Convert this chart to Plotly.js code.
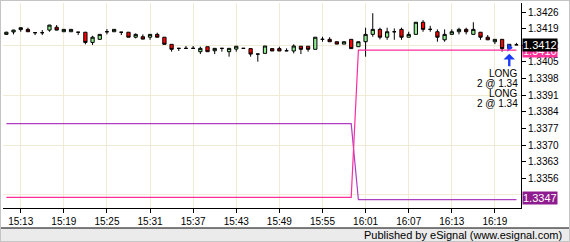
<!DOCTYPE html>
<html>
<head>
<meta charset="utf-8">
<script src="https://cdn.plot.ly/plotly-3.0.1.min.js"></script>
<style>
html,body{margin:0;padding:0;background:#fff;}
#wrap{position:relative;width:570px;height:242px;overflow:hidden;}
#chart{width:570px;height:242px;}
#frame{position:absolute;left:0;top:0;width:570px;height:242px;box-sizing:border-box;border:1px solid #c4c4c4;pointer-events:none;}
</style>
</head>
<body>
<div id="wrap"><div id="chart"></div><div id="frame"></div></div>
<script>
// ---- data ----
var day = '2013-06-12 ';
var times = ['15:11','15:12','15:13','15:14','15:15','15:16','15:17','15:18','15:19','15:20',
 '15:21','15:22','15:23','15:24','15:25','15:26','15:27','15:28','15:29','15:30',
 '15:31','15:32','15:33','15:34','15:35','15:36','15:37','15:38','15:39','15:40',
 '15:41','15:42','15:43','15:44','15:45','15:46','15:47','15:48','15:49','15:50',
 '15:51','15:52','15:53','15:54','15:55','15:56','15:57','15:58','15:59','16:00',
 '16:01','16:02','16:03','16:04','16:05','16:06','16:07','16:08','16:09','16:10',
 '16:11','16:12','16:13','16:14','16:15','16:16','16:17','16:18','16:19','16:20',
 '16:21','16:22'];
var openP = [1.34166,1.34176,1.34186,1.34187,1.34173,1.34173,1.34184,1.34196,1.34177,1.34177,
 1.34175,1.34175,1.34132,1.34145,1.34177,1.34177,1.34175,1.34175,1.34154,1.34156,
 1.34154,1.34166,1.34154,1.34124,1.34107,1.34107,1.34107,1.34093,1.34114,1.34097,
 1.34107,1.34093,1.34104,1.34107,1.34106,1.34083,1.34086,1.34106,1.34106,1.34097,
 1.34096,1.34116,1.34116,1.34103,1.34145,1.34145,1.34135,1.34125,1.34145,1.34114,
 1.34135,1.34166,1.34187,1.34154,1.34177,1.34187,1.34154,1.34166,1.34217,1.34187,
 1.34177,1.34143,1.34166,1.34177,1.34187,1.34166,1.34175,1.34154,1.34135,1.34145,
 1.34106,1.34122];
var highP = [1.34177,1.34185,1.34195,1.34194,1.34173,1.34184,1.34206,1.34205,1.34188,1.34188,
 1.34175,1.34175,1.34160,1.34167,1.34188,1.34188,1.34175,1.34175,1.34170,1.34166,
 1.34167,1.34173,1.34154,1.34124,1.34107,1.34117,1.34117,1.34114,1.34114,1.34107,
 1.34107,1.34107,1.34116,1.34107,1.34106,1.34083,1.34117,1.34106,1.34114,1.34107,
 1.34124,1.34116,1.34116,1.34154,1.34156,1.34154,1.34135,1.34135,1.34145,1.34135,
 1.34194,1.34255,1.34194,1.34194,1.34191,1.34194,1.34177,1.34217,1.34226,1.34202,
 1.34187,1.34187,1.34187,1.34194,1.34194,1.34217,1.34175,1.34163,1.34145,1.34145,
 1.34124,1.34130];
var lowP = [1.34164,1.34166,1.34177,1.34176,1.34163,1.34163,1.34177,1.34183,1.34176,1.34176,
 1.34163,1.34124,1.34121,1.34144,1.34166,1.34176,1.34163,1.34154,1.34149,1.34145,
 1.34143,1.34153,1.34124,1.34093,1.34096,1.34107,1.34107,1.34083,1.34093,1.34083,
 1.34093,1.34072,1.34093,1.34107,1.34072,1.34051,1.34086,1.34096,1.34096,1.34097,
 1.34086,1.34083,1.34093,1.34103,1.34135,1.34135,1.34125,1.34125,1.34106,1.34114,
 1.34072,1.34156,1.34145,1.34143,1.34143,1.34143,1.34154,1.34166,1.34177,1.34177,
 1.34135,1.34135,1.34166,1.34166,1.34166,1.34166,1.34143,1.34143,1.34125,1.34093,
 1.34106,1.34122];
var closeP = [1.34175,1.34184,1.34194,1.34177,1.34173,1.34173,1.34205,1.34184,1.34187,1.34187,
 1.34175,1.34132,1.34154,1.34166,1.34177,1.34187,1.34175,1.34154,1.34166,1.34146,
 1.34166,1.34154,1.34124,1.34103,1.34107,1.34107,1.34107,1.34107,1.34093,1.34107,
 1.34107,1.34107,1.34116,1.34107,1.34083,1.34083,1.34117,1.34096,1.34096,1.34097,
 1.34117,1.34103,1.34103,1.34154,1.34145,1.34135,1.34125,1.34135,1.34106,1.34135,
 1.34166,1.34187,1.34154,1.34177,1.34177,1.34154,1.34166,1.34217,1.34187,1.34187,
 1.34154,1.34166,1.34177,1.34187,1.34177,1.34187,1.34154,1.34143,1.34145,1.34106,
 1.34124,1.34122];
// y-axis tick labels (1.3349 is hidden behind the price flag)
var yTicks = [1.3356,1.3363,1.3370,1.3377,1.3384,1.3391,1.3398,1.3405,1.3412,1.3419,1.3426];
var yGrid  = [1.3349,1.3370,1.3391,1.3412];
// indicator lines
var purpleTimes = ['15:11','15:59','16:00','16:22'];
var purpleVals  = [1.3379, 1.3379, 1.3347, 1.3347];
var pinkTimes   = ['15:11','15:59','16:00','16:22'];
var pinkVals    = [1.3348, 1.3348, 1.3410, 1.3410];
// trade marker
var entryTime = ['16:21'];
var entryPrice = [1.3411];
var tradeLabels = ['LONG', '2 @ 1.34', 'LONG', '2 @ 1.34'];
var footer = 'Published by eSignal (www.esignal.com)';

// ---- build ----
function d(t){ return day + t; }
var grid = '#efebd5';
var FONT = '"Liberation Sans Narrow", "Liberation Sans", Arial, sans-serif';

var traces = [
  {type:'candlestick', x: times.map(d), open: openP, high: highP, low: lowP, close: closeP,
   increasing:{fillcolor:'#90ee90', line:{color:'#000', width:1}},
   decreasing:{fillcolor:'#ff0000', line:{color:'#000', width:1}},
   whiskerwidth:0, hoverinfo:'skip', showlegend:false, xaxis:'x', yaxis:'y'},
  {type:'scatter', mode:'lines', x: purpleTimes.map(d), y: purpleVals,
   line:{color:'#b03cc0', width:1.2}, hoverinfo:'skip', showlegend:false, yaxis:'y2'},
  {type:'scatter', mode:'lines', x: pinkTimes.map(d), y: pinkVals,
   line:{color:'#ff2c9c', width:1.2}, hoverinfo:'skip', showlegend:false, yaxis:'y2'},
  {type:'scatter', mode:'markers', x: entryTime.map(d), y: entryPrice,
   marker:{symbol:'triangle-right', size:7, color:'#1a3cff'}, hoverinfo:'skip', showlegend:false}
];

var yr = [1.33435, 1.34298];
var lastClose = closeP[closeP.length-1];
var labelY = [0.657, 0.608, 0.560, 0.511];
var annotations = [
  {xref:'paper', yref:'y', x:1, xshift:1, xanchor:'left', y: pinkVals[pinkVals.length-1],
   text: pinkVals[pinkVals.length-1].toFixed(4), showarrow:false, bgcolor:'#ff3399',
   font:{family:FONT, size:11, color:'#fff'}, borderpad:0, yshift:-1},
  {xref:'paper', yref:'y', x:1, xshift:1, xanchor:'left', y: lastClose,
   text: lastClose.toFixed(4), showarrow:false, bgcolor:'#000',
   font:{family:FONT, size:11, color:'#fff'}, borderpad:0},
  {xref:'paper', yref:'y', x:1, xshift:1, xanchor:'left', y: purpleVals[purpleVals.length-1],
   text: purpleVals[purpleVals.length-1].toFixed(4), showarrow:false, bgcolor:'#8e1c8e',
   font:{family:FONT, size:11, color:'#fff'}, borderpad:0, yshift:2},
  {xref:'x', yref:'y', x: d(entryTime[0]), y: 1.34084, ax:0, ay:14, text:'', showarrow:true,
   arrowhead:1, arrowsize:0.8, arrowwidth:2.4, arrowcolor:'#1a3cff'},
  {xref:'paper', yref:'paper', x:1, xanchor:'right', xshift:43, y:-0.13, yanchor:'middle',
   text: footer, showarrow:false, font:{family:'"Liberation Sans", Arial, sans-serif', size:11, color:'#000'}}
];
tradeLabels.forEach(function(t, i){
  annotations.push({xref:'paper', yref:'paper', x:1, xshift:-1, xanchor:'right', y: labelY[i],
    yanchor:'middle', text:t, showarrow:false, font:{family:FONT, size:10, color:'#000'}});
});

var shapes = [
  {type:'rect', xref:'paper', yref:'paper', x0:-0.01, x1:1.1, y0:-0.0976, y1:-0.2, fillcolor:'#ebebeb', line:{width:0}, layer:'below'},
  {type:'line', xref:'paper', yref:'paper', x0:-0.01, x1:1.1, y0:-0.0976, y1:-0.0976, line:{color:'#000', width:1}}
];

var layout = {
  width:570, height:242,
  margin:{l:3, r:49, t:3, b:34, pad:0},
  paper_bgcolor:'#fff', plot_bgcolor:'#fff',
  showlegend:false,
  boxgap:0.35,
  font:{family:FONT, size:10, color:'#000'},
  xaxis:{type:'date', range:[d('15:10:32'), d('16:22:38')], tick0: d('15:13'), dtick:360000,
    tickformat:'%H:%M', showgrid:true, gridcolor:grid, gridwidth:1, ticks:'outside', ticklen:4,
    tickcolor:'#000', showline:true, linecolor:'#000', linewidth:1, zeroline:false,
    rangeslider:{visible:false}, fixedrange:true, tickfont:{family:FONT, size:10, color:'#000'}},
  yaxis:{range:yr, side:'right', tickmode:'array', tickvals:yTicks, ticktext: yTicks.map(function(v){return v.toFixed(4);}),
    showgrid:false, ticks:'outside', ticklen:4, tickcolor:'#000', showline:true, linecolor:'#000', linewidth:1,
    zeroline:false, fixedrange:true, tickfont:{family:FONT, size:10, color:'#000'}},
  yaxis2:{range:yr, overlaying:'y', side:'right', tickmode:'array', tickvals:yGrid, showgrid:true,
    gridcolor:grid, gridwidth:1, showticklabels:false, ticks:'', showline:false, zeroline:false, fixedrange:true},
  annotations: annotations,
  shapes: shapes
};

Plotly.newPlot('chart', traces, layout, {displayModeBar:false, staticPlot:true});
</script>
</body>
</html>
